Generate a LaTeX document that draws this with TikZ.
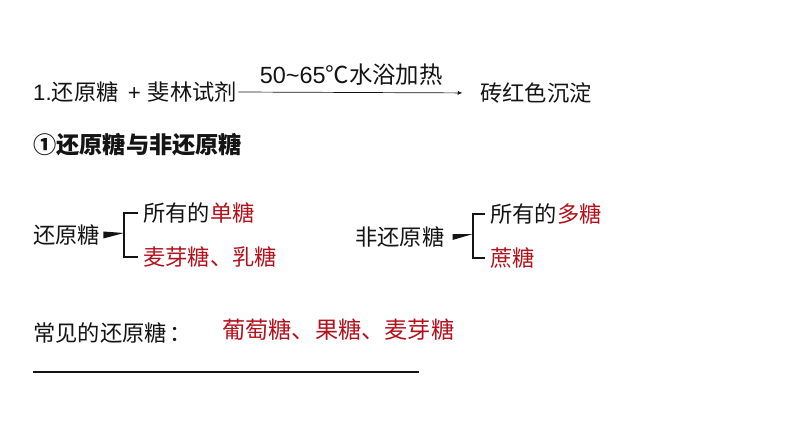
\documentclass[tikz,border=0pt]{standalone}
\usepackage{fontspec}
\setmainfont{Liberation Sans}
\newfontfamily\cjk{Noto Sans CJK SC}
\usetikzlibrary{arrows.meta, positioning, calc}
\definecolor{sugarred}{RGB}{178,18,28}
\definecolor{inkdark}{RGB}{20,20,20}
\tikzset{
  txt/.style={anchor=west, inner sep=0pt, text=inkdark,
    font=\cjk\fontsize{19}{22}\selectfont},
  redtxt/.style={txt, text=sugarred},
  condtxt/.style={inner sep=0pt, text=inkdark,
    font=\cjk\fontsize{20}{24}\selectfont},
  reactarrow/.style={-{Latex[length=4pt,width=3.5pt]}, line width=0.6pt, color=inkdark},
  brace/.style={line width=0.9pt, color=inkdark},
  wedge/.style={fill=inkdark, draw=none}
}
\begin{document}
\begin{tikzpicture}[x=0.03cm, y=-0.03cm]
  \useasboundingbox (0,0) rectangle (794,447);

  % reaction line
  \node[txt] (lhs) at (33,92) {{\rmfamily 1.}还原糖\hspace{8pt}{\rmfamily +}\hspace{6pt}斐林试剂};
  \node[txt] (prod) at (480,93) {砖红色沉淀};
  \draw[reactarrow, shorten <=1pt, shorten >=15pt] (lhs.east) -- (prod.west)
    node[pos=0.47, above=6pt, condtxt] (cond) {{\rmfamily 50\textasciitilde65}℃水浴加热};

  % heading
  \node[txt, font=\cjk\bfseries\fontsize{19.8}{22}\selectfont] (head) at (33,145) {①还原糖与非还原糖};

  % reducing sugars
  \node[txt] (red) at (33,235) {还原糖};
  \coordinate (b1) at (124,233);
  \node[txt] (mono) at (143,213) {所有的\textcolor{sugarred}{单糖}};
  \node[redtxt] (disac) at (143,257) {麦芽糖、乳糖};
  \fill[wedge] ($(red.east)+(3,-3.5)$) -- ($(red.east)+(3,3.5)$) -- (b1) -- cycle;
  \draw[brace] ([xshift=-4pt]mono.west) -| (b1) |- ([xshift=-4pt]disac.west);

  % non-reducing sugars
  \node[txt] (nonred) at (355,237) {非还原糖};
  \coordinate (b2) at (473,234);
  \node[txt] (poly) at (490,214) {所有的\textcolor{sugarred}{多糖}};
  \node[redtxt] (sucr) at (490,258) {蔗糖};
  \fill[wedge] ($(nonred.east)+(8,-3)$) -- ($(nonred.east)+(8,3)$) -- (b2) -- cycle;
  \draw[brace] ([xshift=-4pt]poly.west) -| (b2) |- ([xshift=-4pt]sucr.west);

  % common reducing sugars
  \node[txt] (common) at (33,333) {常见的还原糖\hspace{2pt}：};
  \node[redtxt, font=\cjk\fontsize{19.8}{22}\selectfont] (examples) at (222,330) {葡萄糖、果糖、麦芽糖};
  \coordinate (ul1) at (33,372);
  \coordinate (ul2) at (419,372);
  \draw[brace] (ul1) -- (ul2);
\end{tikzpicture}
\end{document}
